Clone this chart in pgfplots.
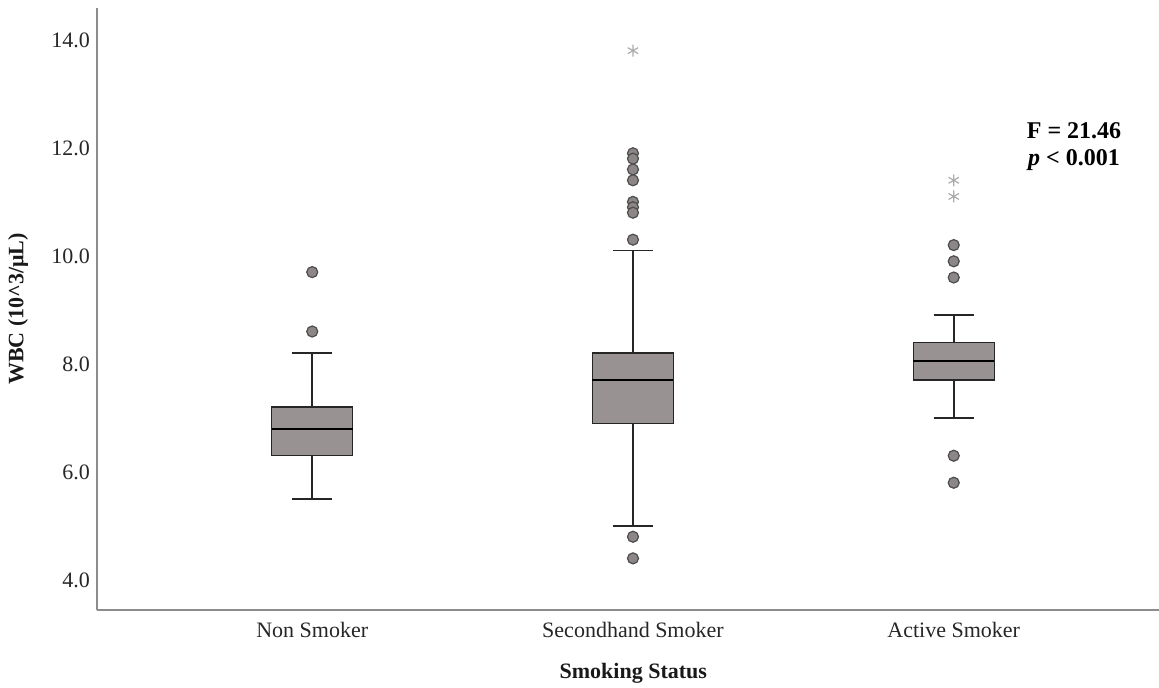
\documentclass[border=0pt]{standalone}
\usepackage{pgfplots}
\pgfplotsset{compat=1.18}
\usepackage{fontspec}
\setmainfont{Liberation Serif}
\definecolor{boxfill}{RGB}{153,146,146}
\definecolor{outfill}{RGB}{140,134,134}
\definecolor{axgray}{RGB}{140,140,140}
\definecolor{stargray}{RGB}{172,172,172}

\begin{document}
\begin{tikzpicture}
\useasboundingbox (-48.5pt,-39pt) rectangle (531pt,305pt);
\begin{axis}[
  at={(0,0)}, anchor=south west,
  width=531pt, height=301pt, scale only axis,
  xmin=-0.671, xmax=2.64, ymin=3.444, ymax=14.59,
  axis lines*=left,
  axis line style={axgray, line width=0.9pt},
  xtick={0,1,2},
  xticklabels={Non Smoker, Secondhand Smoker, Active Smoker},
  ytick={4,6,8,10,12,14},
  major tick length=0pt,
  tick label style={font=\fontsize{11}{13}\selectfont, text=black!85},
  xticklabel style={yshift=-2.5pt},
  /pgf/number format/fixed,
  /pgf/number format/fixed zerofill,
  /pgf/number format/precision=1,
  /pgf/number format/assume math mode=true,
  ylabel={\bfseries WBC (10\textasciicircum 3/μL)},
  ylabel style={at={(axis description cs:-0.0744,0.5)}, anchor=center, font=\fontsize{11}{13}\selectfont, text=black!90},
  xlabel={\bfseries Smoking Status},
  xlabel style={at={(axis description cs:0.505,-0.1047)}, anchor=center, font=\fontsize{11}{13}\selectfont, text=black!90},
  unbounded coords=jump,
  clip=false,
]
% ---- Non Smoker (x=0)
\addplot[black!85, line width=0.9pt] coordinates {
 (0,7.2) (0,8.2) (0,nan) (-0.0625,8.2) (0.0625,8.2) (0,nan)
 (0,6.3) (0,5.5) (0,nan) (-0.0625,5.5) (0.0625,5.5)};
\addplot[draw=black!85, fill=boxfill, line width=0.7pt] coordinates {
 (-0.1263,6.3) (0.1263,6.3) (0.1263,7.2) (-0.1263,7.2) (-0.1263,6.3)};
\addplot[black, line width=1.1pt] coordinates {(-0.1263,6.8) (0.1263,6.8)};
% ---- Secondhand Smoker (x=1)
\addplot[black!85, line width=0.9pt] coordinates {
 (1,8.2) (1,10.1) (1,nan) (0.9375,10.1) (1.0625,10.1) (1,nan)
 (1,6.9) (1,5.0) (1,nan) (0.9375,5.0) (1.0625,5.0)};
\addplot[draw=black!85, fill=boxfill, line width=0.7pt] coordinates {
 (0.8737,6.9) (1.1263,6.9) (1.1263,8.2) (0.8737,8.2) (0.8737,6.9)};
\addplot[black, line width=1.1pt] coordinates {(0.8737,7.7) (1.1263,7.7)};
% ---- Active Smoker (x=2)
\addplot[black!85, line width=0.9pt] coordinates {
 (2,8.4) (2,8.9) (2,nan) (1.9375,8.9) (2.0625,8.9) (2,nan)
 (2,7.7) (2,7.0) (2,nan) (1.9375,7.0) (2.0625,7.0)};
\addplot[draw=black!85, fill=boxfill, line width=0.7pt] coordinates {
 (1.8737,7.7) (2.1263,7.7) (2.1263,8.4) (1.8737,8.4) (1.8737,7.7)};
\addplot[black, line width=1.1pt] coordinates {(1.8737,8.05) (2.1263,8.05)};
% outliers
\addplot[only marks, mark=*, mark size=2.75pt, mark options={fill=outfill, draw=black!70, line width=0.6pt}] coordinates {
 (0,9.7) (0,8.6)
 (1,11.9) (1,11.8) (1,11.6) (1,11.4) (1,11.0) (1,10.9) (1,10.8) (1,10.3) (1,4.8) (1,4.4)
 (2,10.2) (2,9.9) (2,9.6) (2,6.3) (2,5.8)
};
% extreme values
\addplot[only marks, mark=asterisk, mark size=3pt, stargray, line width=0.6pt] coordinates {
 (1,13.8) (2,11.4) (2,11.1)
};
\node[align=center, font=\fontsize{12}{13.5}\selectfont\bfseries] at (axis description cs:0.92,0.770) {F = 21.46\\ \textit{p} < 0.001};
\end{axis}
\end{tikzpicture}
\end{document}
